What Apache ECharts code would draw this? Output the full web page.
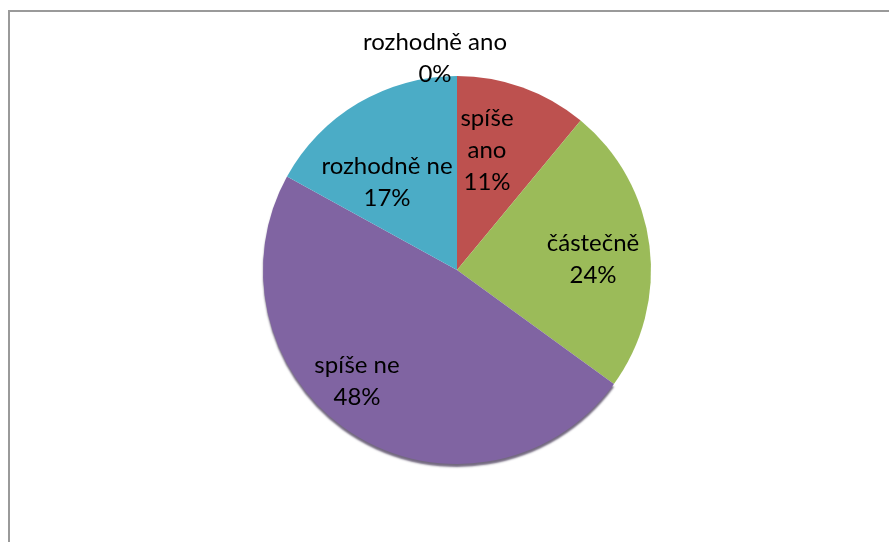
<!DOCTYPE html>
<html>
<head>
<meta charset="utf-8">
<script src="https://cdn.jsdelivr.net/npm/echarts@6/dist/echarts.min.js"></script>
<style>
  html, body { margin: 0; padding: 0; background: #fff; }
  #chart { width: 889px; height: 542px; }
</style>
</head>
<body>
<div id="chart"></div>
<script>
// Answer categories, clockwise from 12 o'clock
const categories = ['rozhodně ano', 'spíše ano', 'částečně', 'spíše ne', 'rozhodně ne'];
// Share of answers, in percent
const shares = [0, 11, 24, 48, 17];

const sliceColors = ['#c0504d', '#bd514f', '#9bbb59', '#8064a2', '#4bacc6'];
// Label anchors (px) chosen per slice, as the chart places them
const labelAnchors = [[435, 58], [487, 150], [593, 259], [357, 381], [387, 182]];
// Only the slice along the bottom rim gets the dark edge shading
const rimSlice = 'spíše ne';

const chart = echarts.init(document.getElementById('chart'), null, { renderer: 'canvas' });

chart.setOption({
  animation: false,
  backgroundColor: '#ffffff',
  graphic: [{
    type: 'rect',
    shape: { x: 9, y: 11, width: 1000, height: 1000 },
    style: { fill: 'none', stroke: '#9a9a9a', lineWidth: 2 },
    silent: true
  }],
  series: [{
    type: 'pie',
    center: [457, 270],
    radius: [0, 194],
    startAngle: 90,
    clockwise: true,
    avoidLabelOverlap: false,
    itemStyle: { borderWidth: 0 },
    label: {
      show: true,
      position: 'inside',
      color: '#000',
      fontFamily: 'Lato, "Open Sans", sans-serif',
      fontSize: 24,
      lineHeight: 32,
      align: 'center',
      verticalAlign: 'middle',
      formatter: p => (p.name === 'spíše ano' ? 'spíše\nano' : p.name) + '\n' + p.value + '%'
    },
    labelLine: { show: false },
    labelLayout: p => ({
      x: labelAnchors[p.dataIndex][0],
      y: labelAnchors[p.dataIndex][1],
      align: 'center',
      verticalAlign: 'middle'
    }),
    data: categories.map((name, i) => ({
      name,
      value: shares[i],
      itemStyle: name === rimSlice
        ? { color: sliceColors[i], shadowColor: 'rgba(40,25,60,0.65)', shadowBlur: 2, shadowOffsetY: 3 }
        : { color: sliceColors[i] }
    }))
  }]
});
</script>
</body>
</html>
